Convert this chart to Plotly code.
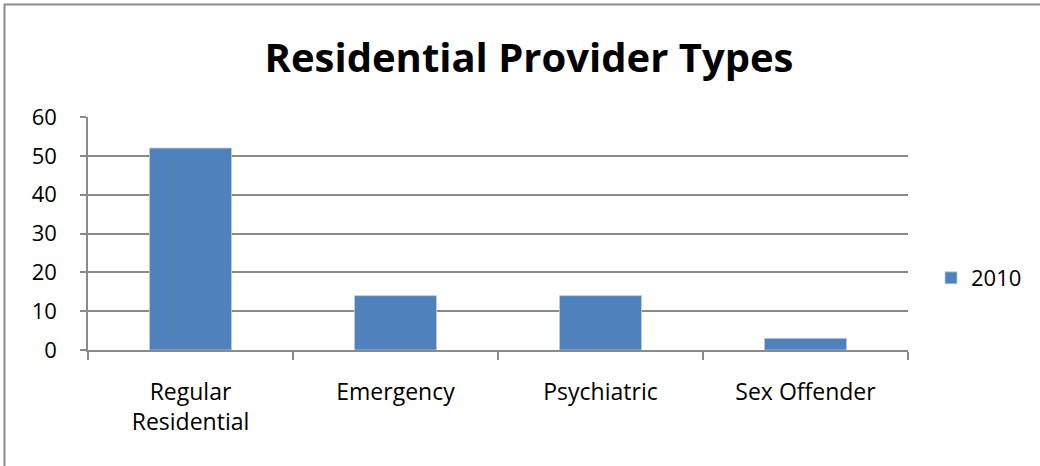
import plotly.graph_objects as go

categories = ["Regular<br>Residential", "Emergency", "Psychiatric", "Sex Offender"]
values_2010 = [52, 14, 14, 3]
series_name = "2010"
y_ticks = [0, 10, 20, 30, 40, 50, 60]

W, H = 1040, 466
L, R, T, B = 88, 132, 117, 116
pw, ph = W - L - R, H - T - B

def px_to_paper_x(px):
    return (px - L) / pw

def px_to_paper_y(py):
    return (H - B - py) / ph

font_family = "Open Sans, Liberation Sans, sans-serif"
grid_col = "#8a8a8a"

fig = go.Figure()
fig.add_trace(go.Bar(
    x=categories, y=values_2010, name=series_name,
    marker=dict(color="#4F81BD", line=dict(color="#B9CDE5", width=0.8)),
    width=0.4,
))

fig.update_layout(
    width=W, height=H,
    margin=dict(l=L, r=R, t=T, b=B, autoexpand=False),
    paper_bgcolor="white", plot_bgcolor="white",
    title=dict(text="<b>Residential Provider Types</b>", x=529 / W, xanchor="center",
               xref="container", y=1 - 58 / H, yanchor="middle",
               font=dict(family=font_family, size=40, color="black")),
    font=dict(family=font_family, size=23, color="black"),
    showlegend=True,
    legend=dict(x=px_to_paper_x(931), y=px_to_paper_y(278), xanchor="left", yanchor="middle",
                font=dict(size=22), itemwidth=30, bgcolor="rgba(0,0,0,0)"),
    xaxis=dict(
        showline=True, linecolor=grid_col, linewidth=1.5,
        ticks="outside", tickson="boundaries", ticklen=8, tickcolor=grid_col, tickwidth=1.5,
        ticklabelstandoff=21,
        showgrid=False,
        tickfont=dict(size=23),
    ),
    yaxis=dict(
        range=[0, 60], tickvals=y_ticks,
        showline=True, linecolor=grid_col, linewidth=1.5,
        ticks="outside", ticklen=6, tickcolor=grid_col, tickwidth=1.5,
        ticklabelstandoff=19,
        showgrid=True, gridcolor=grid_col, gridwidth=1.5,
        zeroline=False,
        tickfont=dict(size=22),
    ),
    shapes=[dict(type="rect", xref="paper", yref="paper",
                 x0=px_to_paper_x(4.5), x1=px_to_paper_x(1200),
                 y0=px_to_paper_y(600), y1=px_to_paper_y(4.5),
                 line=dict(color="#8c8c8c", width=2), fillcolor="rgba(0,0,0,0)", layer="below")],
)

fig.write_html("out.html",
               config={"displayModeBar": False},
               post_script="document.body.style.margin='0';document.body.style.overflow='hidden';")
